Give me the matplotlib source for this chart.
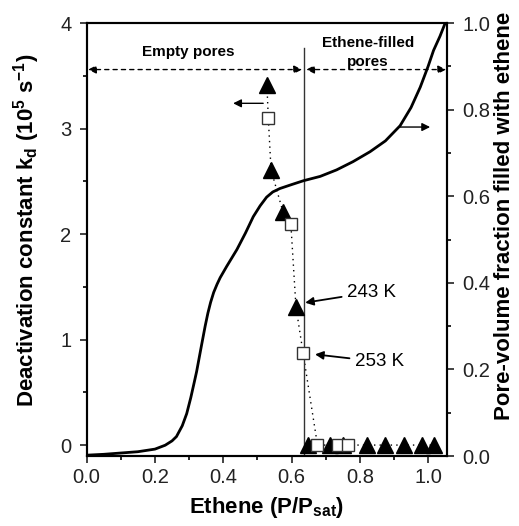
import numpy as np
import matplotlib
matplotlib.use("Agg")
import matplotlib.pyplot as plt
from matplotlib.ticker import MultipleLocator

plt.rcParams['font.family'] = ['Liberation Sans', 'DejaVu Sans']
plt.rcParams['mathtext.default'] = 'regular'

# kd at 243 K (triangles) and 253 K (squares)
x_243 = [0.528, 0.540, 0.575, 0.613, 0.647, 0.713, 0.750, 0.821, 0.874, 0.930, 0.981, 1.018]
kd_243 = [3.41, 2.61, 2.21, 1.31, 0.0, 0.0, 0.0, 0.0, 0.0, 0.0, 0.0, 0.0]
x_253 = [0.532, 0.598, 0.634, 0.676, 0.737, 0.766]
kd_253 = [3.10, 2.10, 0.87, 0.0, 0.0, 0.0]

# dotted guide through both series
x_guide = [0.528, 0.532, 0.540, 0.575, 0.598, 0.613, 0.634, 0.676, 0.737, 0.766, 0.821, 0.874, 0.930, 0.981, 1.018]
kd_guide = [3.41, 3.10, 2.61, 2.21, 2.10, 1.31, 0.87, 0.0, 0.0, 0.0, 0.0, 0.0, 0.0, 0.0, 0.0]

# pore-volume fraction filled with ethene (right axis)
x_fill = [0.0, 0.05, 0.1, 0.15, 0.2, 0.23, 0.25, 0.263, 0.28, 0.293, 0.305, 0.315, 0.322,
          0.335, 0.347, 0.355, 0.363, 0.372, 0.382, 0.391, 0.41, 0.44, 0.465, 0.488, 0.508,
          0.527, 0.545, 0.566, 0.6, 0.635, 0.684, 0.732, 0.78, 0.83, 0.875, 0.918, 0.95,
          0.977, 1.0, 1.016, 1.035, 1.05]
f_fill = [0.002, 0.004, 0.007, 0.010, 0.016, 0.025, 0.035, 0.045, 0.07, 0.098, 0.135, 0.17, 0.195,
          0.25, 0.30, 0.33, 0.355, 0.378, 0.397, 0.412, 0.438, 0.477, 0.515, 0.553, 0.578,
          0.598, 0.610, 0.618, 0.627, 0.636, 0.646, 0.661, 0.68, 0.703, 0.728, 0.763, 0.805,
          0.852, 0.900, 0.937, 0.97, 1.0]

x_border = 0.637
y_arrow = 3.56

fig = plt.figure(figsize=(5.19, 5.26), dpi=100)
ax = fig.add_axes([0.167, 0.133, 0.694, 0.823])
ax2 = ax.twinx()

ax.set_xlim(0, 1.055)
ax.set_ylim(-0.104, 4)
ax2.set_ylim(0, 1.0)

ax2.plot(x_fill, f_fill, color='k', lw=2, solid_joinstyle='round')

ax.plot(x_guide, kd_guide, color='k', ls=(0, (1, 3)), lw=1)
ax.plot(x_243, kd_243, ls='none', marker='^', ms=11, color='k', zorder=3)
ax.plot(x_253, kd_253, ls='none', marker='s', ms=8.5, mfc='white', mec='#333333', mew=1, zorder=4)

ax.plot([x_border, x_border], [-0.104, 3.76], color='#333333', lw=1)

# region arrows
ax.annotate('', xy=(0.004, y_arrow), xytext=(0.631, y_arrow),
            arrowprops=dict(arrowstyle='<|-|>', ls=(0, (3, 3)), lw=1, color='k',
                            shrinkA=0, shrinkB=0, mutation_scale=12))
ax.annotate('', xy=(0.643, y_arrow), xytext=(1.053, y_arrow),
            arrowprops=dict(arrowstyle='<|-|>', ls=(0, (3, 3)), lw=1, color='k',
                            shrinkA=0, shrinkB=0, mutation_scale=12))
ax.text(0.297, 3.73, 'Empty pores', fontsize=11, fontweight='bold', ha='center', va='center')
ax.text(0.824, 3.72, 'Ethene-filled\npores', fontsize=11, fontweight='bold', ha='center',
        va='center', linespacing=1.5)

# axis arrows
ax.annotate('', xy=(0.429, 3.24), xytext=(0.517, 3.24),
            arrowprops=dict(arrowstyle='-|>', lw=1, color='k', shrinkA=0, shrinkB=0, mutation_scale=12))
ax2.annotate('', xy=(1.006, 0.76), xytext=(0.918, 0.76),
             arrowprops=dict(arrowstyle='-|>', lw=1, color='k', shrinkA=0, shrinkB=0, mutation_scale=12))

# temperature labels
ax.annotate('243 K', xy=(0.64, 1.35), xytext=(0.763, 1.45), fontsize=13.5, va='center',
            arrowprops=dict(arrowstyle='-|>', lw=1.3, color='k', shrinkA=2, shrinkB=0, mutation_scale=12))
ax.annotate('253 K', xy=(0.669, 0.86), xytext=(0.786, 0.79), fontsize=13.5, va='center',
            arrowprops=dict(arrowstyle='-|>', lw=1.3, color='k', shrinkA=2, shrinkB=0, mutation_scale=12))

ax.xaxis.set_major_locator(MultipleLocator(0.2))
ax.xaxis.set_minor_locator(MultipleLocator(0.1))
ax.yaxis.set_major_locator(MultipleLocator(1))
ax.yaxis.set_minor_locator(MultipleLocator(0.5))
ax2.yaxis.set_major_locator(MultipleLocator(0.2))
ax2.yaxis.set_minor_locator(MultipleLocator(0.1))
ax.xaxis.set_major_formatter(plt.FormatStrFormatter('%.1f'))
ax2.yaxis.set_major_formatter(plt.FormatStrFormatter('%.1f'))

for a in (ax, ax2):
    a.tick_params(which='major', direction='out', length=5, width=1.2, labelsize=14.5, colors='#222222')
    a.tick_params(which='minor', direction='out', length=3, width=1.2)
    for s in a.spines.values():
        s.set_linewidth(1.5)
ax.tick_params(axis='y', pad=6)
ax2.tick_params(axis='y', pad=6)

ax.set_xlabel(r'Ethene (P/P$_{sat}$)', fontsize=16, fontweight='bold', labelpad=6)
ax.set_ylabel(r'Deactivation constant k$_d$ (10$^5$ s$^{-1}$)', fontsize=16, fontweight='bold')
ax2.set_ylabel('Pore-volume fraction filled with ethene', fontsize=16, fontweight='bold')
ax.yaxis.set_label_coords(-0.125, 0.522)
ax2.yaxis.set_label_coords(1.13, 0.554)

fig.savefig('out.png', dpi=100)
